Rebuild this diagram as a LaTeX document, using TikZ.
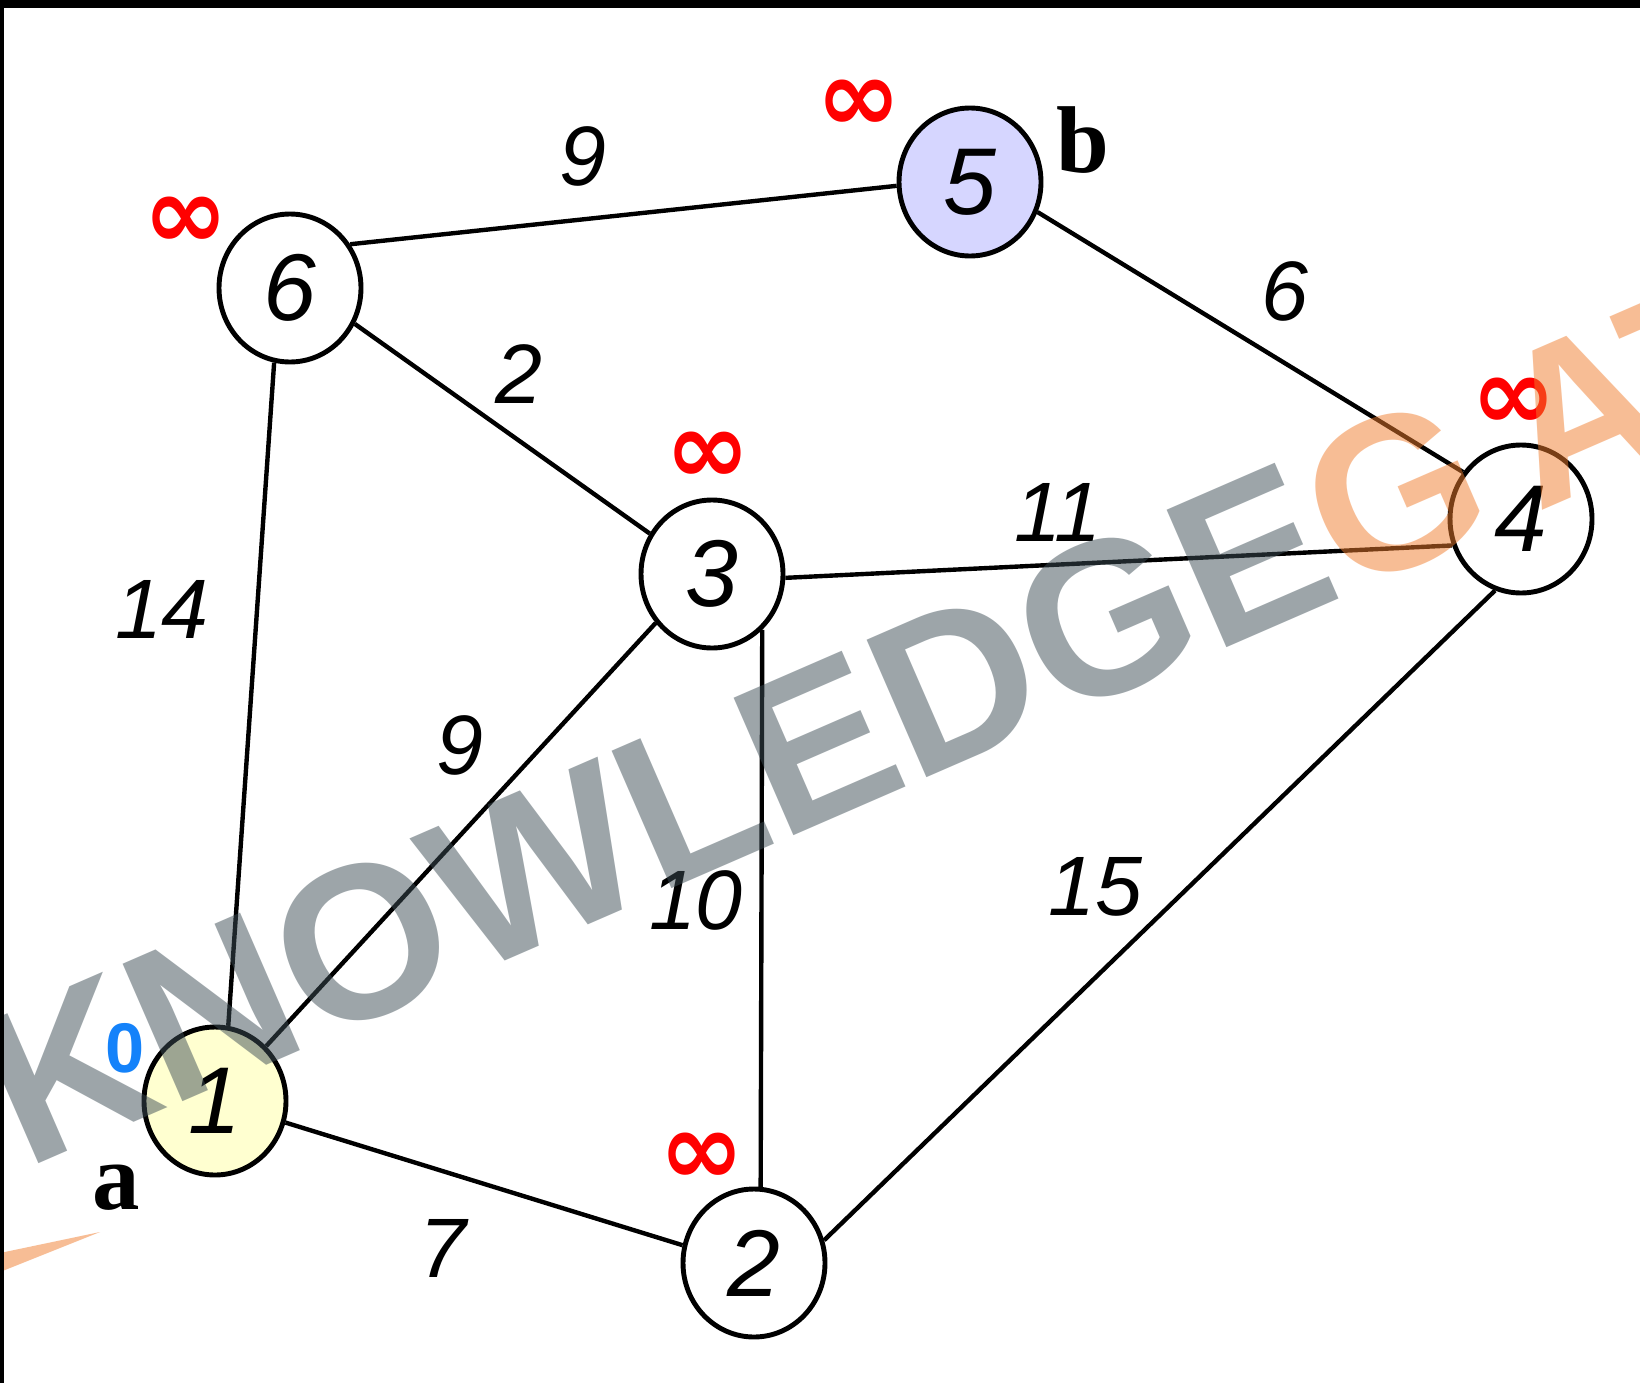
\documentclass[tikz,border=0pt]{standalone}
\usepackage{fontspec}
\setmainfont{Liberation Sans}
\newfontfamily\timesfont{Liberation Serif}
\newfontfamily\dejavufont{DejaVu Sans}
\usepackage{xcolor}
\usetikzlibrary{shapes.geometric, positioning}

\definecolor{nutvang}{RGB}{255,255,208}
\definecolor{nuttim}{RGB}{214,214,255}
\definecolor{xanhkhong}{RGB}{20,130,250}
\definecolor{wmxam}{RGB}{61,77,85}
\definecolor{wmcam}{RGB}{241,125,45}

\tikzset{
  vertex/.style={ellipse, draw=black, line width=1.4pt, minimum width=1.42cm,
    minimum height=1.48cm, inner sep=0pt, font=\fontsize{27}{30}\selectfont\itshape},
  canh/.style={black, line width=1.25pt},
  trongso/.style={inner sep=0pt, font=\fontsize{24}{26}\selectfont\itshape},
  vocuc/.style={inner sep=0pt, text=red, font=\dejavufont\bfseries\fontsize{29}{30}\selectfont},
  tenđinh/.style={inner sep=0pt, font=\timesfont\bfseries\fontsize{27}{30}\selectfont},
}

\begin{document}
\begin{tikzpicture}
    \useasboundingbox (0,0) rectangle (16.4,-13.83);
    \fill[white] (0,0) rectangle (16.4,-13.83);

    % 1. Các đỉnh của đồ thị
    \node[vertex] (n6) at (2.90,-2.88) {6};
    \node[vertex, fill=nuttim] (n5) at (9.70,-1.82) {5};
    \node[vertex] (n3) at (7.12,-5.74) {3};
    \node[vertex] (n4) at (15.21,-5.19) {4};
    \node[vertex, fill=nutvang] (n1) at (2.15,-11.01) {1};
    \node[vertex] (n2) at (7.54,-12.63) {2};

    % 2. Các cạnh nối giữa các đỉnh
    \draw[canh] (n6.36) -- (n5.183);
    \draw[canh] (n6.-29) -- (n3.147);
    \draw[canh] (n6.-102) -- (n1.80);
    \draw[canh] (n5.-24) -- (n4.141);
    \draw[canh] (n3.-3) -- (n4.201);
    \draw[canh] (n3.221) -- (n1.47);
    \draw[canh] (n3.-48) -- (n2.85);
    \draw[canh] (n4.250) -- (n2.18);
    \draw[canh] (n1.-17) -- (n2.166);

    % 3. Trọng số trên các cạnh
    \node[trongso] (w65) at (5.83,-1.56) {9};
    \node[trongso] (w63) at (5.19,-3.74) {2};
    \node[trongso] (w61) at (1.62,-6.09) {14};
    \node[trongso] (w54) at (12.85,-2.91) {6};
    \node[trongso] (w34) at (10.58,-5.12) {11};
    \node[trongso] (w31) at (4.60,-7.45) {9};
    \node[trongso] (w32) at (6.96,-9.00) {10};
    \node[trongso] (w42) at (10.95,-8.87) {15};
    \node[trongso] (w12) at (4.43,-12.48) {7};

    % 4. Khoảng cách ban đầu
    \node[vocuc] (d6) at (1.86,-2.23) {∞};
    \node[vocuc] (d5) at (8.59,-1.06) {∞};
    \node[vocuc] (d3) at (7.08,-4.58) {∞};
    \node[vocuc] (d4) at (15.14,-4.04) {∞};
    \node[vocuc] (d2) at (7.02,-11.59) {∞};
    \node[inner sep=0pt, text=xanhkhong, font=\bfseries\fontsize{20}{22}\selectfont] (d1) at (1.25,-10.48) {0};

    % 5. Đỉnh nguồn a và đỉnh đích b
    \node[tenđinh] (nhana) at (1.16,-11.88) {a};
    \node[tenđinh] (nhanb) at (10.83,-1.40) {b};

    % 6. Hình mờ
    \node[rotate=23.5, anchor=base west, inner sep=0pt, text opacity=0.5,
      font=\bfseries\fontsize{62}{62}\selectfont] (hinhmo) at (0.25,-11.70)
      {\color{wmxam}KNOWLEDGE\color{wmcam}G\kern0.18em ATE};
    \fill[wmcam, opacity=0.5] (0,-12.53) -- (1.00,-12.32) -- (0,-12.72) -- cycle;

    % 7. Viền đen
    \fill[black] (0,0) rectangle (16.4,-0.08);
    \fill[black] (0,0) rectangle (0.04,-13.83);
\end{tikzpicture}
\end{document}
